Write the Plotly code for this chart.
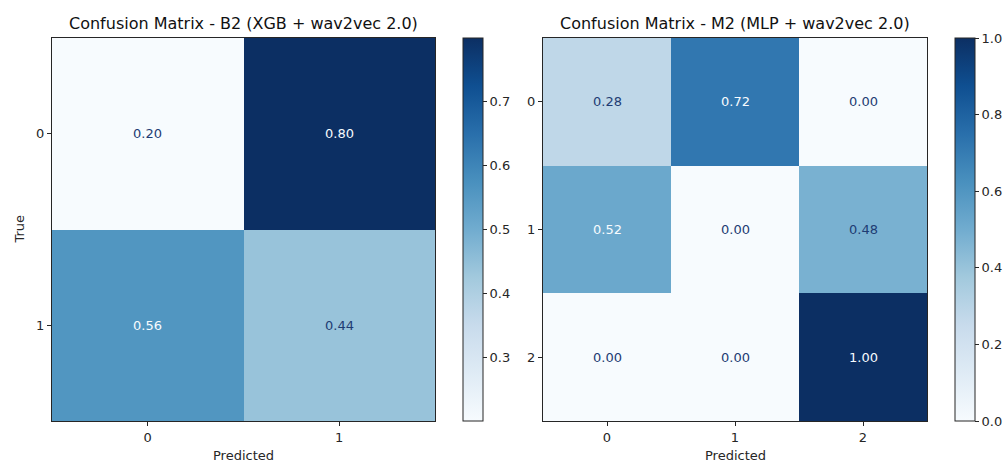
import plotly.graph_objects as go

# Row-normalised confusion matrices
labels_b2 = ["0", "1"]
cm_b2 = [[0.20, 0.80],
         [0.56, 0.44]]

labels_m2 = ["0", "1", "2"]
cm_m2 = [[0.28, 0.72, 0.00],
         [0.52, 0.00, 0.48],
         [0.00, 0.00, 1.00]]

title_b2 = "Confusion Matrix - B2 (XGB + wav2vec 2.0)"
title_m2 = "Confusion Matrix - M2 (MLP + wav2vec 2.0)"
cbar_ticks_b2 = [0.3, 0.4, 0.5, 0.6, 0.7]
cbar_ticks_m2 = [0.0, 0.2, 0.4, 0.6, 0.8, 1.0]

W, H = 1007, 462
FONT = "DejaVu Sans"
INK = "#262626"

blues_rgb = [(247, 251, 255), (222, 235, 247), (198, 219, 239),
             (158, 202, 225), (107, 174, 214), (66, 146, 198),
             (33, 113, 181), (8, 81, 156), (8, 48, 107)]


def soften(c, amount=0.12):
    """Pull a colour slightly toward its grey value for a muted palette."""
    g = 0.3 * c[0] + 0.59 * c[1] + 0.11 * c[2]
    return tuple(round(v + amount * (g - v)) for v in c)


def rgb(c):
    return "rgb(%d,%d,%d)" % c


muted = [soften(c) for c in blues_rgb]
colorscale = [[i / (len(muted) - 1), rgb(c)] for i, c in enumerate(muted)]
dark_text = "rgb(30,60,115)"
light_text = rgb(muted[0])


def px_x(x):
    return x / W


def px_y(y):
    return (H - y) / H


# panel geometry in pixels (left, right, top, bottom)
panels = [
    dict(cm=cm_b2, labels=labels_b2, title=title_b2, box=(52, 435, 38, 421),
         cbar_x=463, ticks=cbar_ticks_b2, ylabel="True"),
    dict(cm=cm_m2, labels=labels_m2, title=title_m2, box=(543, 927, 38, 421),
         cbar_x=955, ticks=cbar_ticks_m2, ylabel=None),
]

fig = go.Figure()
annotations = []
layout_axes = {}

for k, p in enumerate(panels):
    n = len(p["labels"])
    cm = p["cm"]
    flat = [v for row in cm for v in row]
    zmin, zmax = min(flat), max(flat)
    l, r, t, b = p["box"]
    suffix = "" if k == 0 else str(k + 1)
    xa, ya = "x" + suffix, "y" + suffix

    fig.add_trace(go.Heatmap(
        z=cm, x=list(range(n)), y=list(range(n)),
        xaxis=xa, yaxis=ya,
        colorscale=colorscale, zmin=zmin, zmax=zmax,
        hoverinfo="skip",
        colorbar=dict(
            x=px_x(p["cbar_x"]), xanchor="left", xpad=0,
            y=px_y((t + b) / 2), yanchor="middle", ypad=0,
            len=(b - t) / H, lenmode="fraction",
            thickness=20, thicknessmode="pixels",
            outlinewidth=1, outlinecolor=INK,
            tickvals=p["ticks"], ticktext=[f"{v:.1f}" for v in p["ticks"]],
            ticks="outside", ticklen=4, tickwidth=1, tickcolor=INK,
            tickfont=dict(family=FONT, size=13, color=INK),
        ),
    ))

    thresh = (zmin + zmax) / 2
    for i in range(n):
        for j in range(n):
            v = cm[i][j]
            annotations.append(dict(
                x=j, y=i, xref=xa, yref=ya, text=f"{v:.2f}", showarrow=False,
                font=dict(family=FONT, size=13,
                          color=light_text if v >= thresh else dark_text),
            ))

    axis_common = dict(
        showline=True, linecolor=INK, linewidth=1, mirror=True,
        ticks="outside", ticklen=4, tickwidth=1, tickcolor=INK,
        showgrid=False, zeroline=False, type="linear",
        tickfont=dict(family=FONT, size=13, color=INK),
        tickvals=list(range(n)), ticktext=p["labels"],
    )
    layout_axes["xaxis" + suffix] = dict(
        axis_common, domain=[px_x(l), px_x(r)], range=[-0.5, n - 0.5],
        anchor=ya)
    layout_axes["yaxis" + suffix] = dict(
        axis_common, domain=[px_y(b), px_y(t)], range=[n - 0.5, -0.5],
        anchor=xa)

    # panel title and axis labels
    annotations.append(dict(
        x=px_x((l + r) / 2), y=px_y(23), xref="paper", yref="paper",
        text=p["title"], showarrow=False, xanchor="center", yanchor="middle",
        font=dict(family=FONT, size=16, color="#111111")))
    annotations.append(dict(
        x=px_x((l + r) / 2), y=px_y(455), xref="paper", yref="paper",
        text="Predicted", showarrow=False, xanchor="center", yanchor="middle",
        font=dict(family=FONT, size=13, color=INK)))
    if p["ylabel"]:
        annotations.append(dict(
            x=px_x(19), y=px_y((t + b) / 2), xref="paper", yref="paper",
            text=p["ylabel"], showarrow=False, textangle=-90,
            xanchor="center", yanchor="middle",
            font=dict(family=FONT, size=13, color=INK)))

fig.update_layout(
    width=W, height=H,
    margin=dict(l=0, r=0, t=0, b=0),
    paper_bgcolor="white", plot_bgcolor="white",
    showlegend=False,
    annotations=annotations,
    **layout_axes,
)

fig.write_html("out.html")
